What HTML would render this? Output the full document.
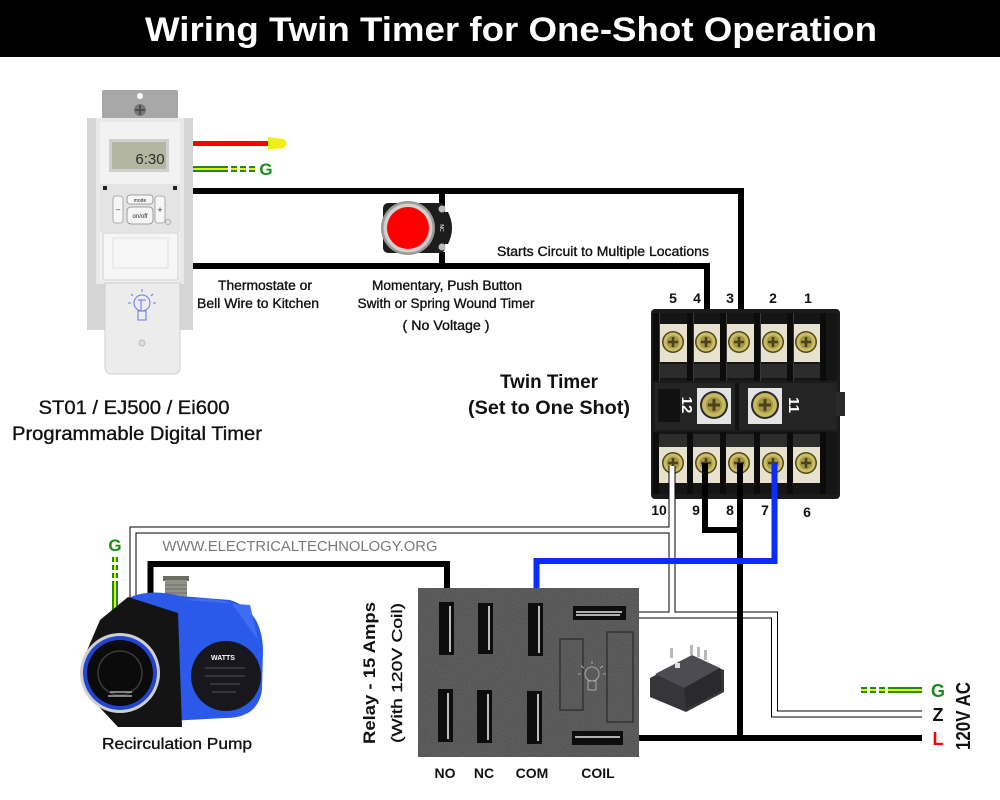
<!DOCTYPE html>
<html><head><meta charset="utf-8"><style>
html,body{margin:0;padding:0;background:#fff;}
svg{display:block;}
text{font-family:"Liberation Sans",sans-serif;}
.lb{stroke:#111;stroke-width:0.35px;}
</style></head><body>
<svg width="1000" height="800" viewBox="0 0 1000 800" xmlns="http://www.w3.org/2000/svg">
<defs>
 <g id="scr">
  <circle r="11" fill="#4f4818"/>
  <circle r="9.5" fill="#cbbd64"/>
  <circle r="6.5" fill="#a6984a"/>
  <path d="M-5,0H5M0,-5V5" stroke="#4a4218" stroke-width="2.6"/>
 </g>
 <g id="bscr">
  <circle r="14" fill="#2a2a2a"/>
  <circle r="12" fill="#c7b85e"/>
  <circle r="8" fill="#a39448"/>
  <path d="M-6,0H6M0,-6V6" stroke="#4a4218" stroke-width="3"/>
 </g>
 <filter id="noise" x="0" y="0" width="100%" height="100%">
  <feTurbulence type="fractalNoise" baseFrequency="0.9" numOctaves="2" result="n"/>
  <feColorMatrix type="saturate" values="0"/>
  <feComponentTransfer><feFuncA type="linear" slope="0.25"/></feComponentTransfer>
  <feComposite in2="SourceGraphic" operator="in"/>
 </filter>
</defs>

<!-- Title -->
<rect x="0" y="0" width="1000" height="57" fill="#000"/>
<text x="511" y="41" font-size="34" font-weight="bold" fill="#fff" text-anchor="middle" textLength="732" lengthAdjust="spacingAndGlyphs">Wiring Twin Timer for One-Shot Operation</text>

<!-- ===== Black wires top ===== -->
<g fill="none" stroke="#000" stroke-width="6" stroke-linejoin="miter" stroke-linecap="butt">
 <path d="M193,191 H741 V342"/>
 <path d="M193,266 H707 V342"/>
 <path d="M442,191 V206"/>
 <path d="M442,252 V266"/>
</g>
<!-- red wire + nut -->
<rect x="193" y="141" width="76" height="5" fill="#ff0000"/>
<path d="M268,137 L284,139 Q289,143.5 284,148 L268,150 Z" fill="#f2ee1e"/>
<!-- ground at timer -->
<rect x="193" y="166" width="35" height="6" fill="#1a8c1a"/>
<rect x="193" y="168" width="35" height="2" fill="#eeee00"/>
<g>
 <rect x="231" y="166" width="6" height="6" fill="#1a8c1a"/><rect x="231" y="168" width="6" height="2" fill="#eeee00"/>
 <rect x="240" y="166" width="6" height="6" fill="#1a8c1a"/><rect x="240" y="168" width="6" height="2" fill="#eeee00"/>
 <rect x="249" y="166" width="6" height="6" fill="#1a8c1a"/><rect x="249" y="168" width="6" height="2" fill="#eeee00"/>
</g>
<text x="266" y="175" font-size="17" font-weight="bold" fill="#1a8c1a" text-anchor="middle">G</text>

<!-- ===== Programmable timer device ===== -->
<rect x="87" y="118" width="106" height="212" fill="#d5d5d5"/>
<rect x="102" y="90" width="76" height="32" rx="2" fill="#a8a8a8"/>
<circle cx="140" cy="96" r="3" fill="#fff"/>
<circle cx="140" cy="110" r="6" fill="#777"/>
<path d="M135,110H145M140,105V115" stroke="#444" stroke-width="1.5"/>
<rect x="96" y="118" width="88" height="166" fill="#e9e9e9"/>
<rect x="100" y="122" width="80" height="160" fill="#f2f2f2"/>
<rect x="109" y="139" width="60" height="33" fill="#cfcfcf"/>
<rect x="112" y="142" width="54" height="27" fill="#b3b6a1"/>
<text x="150" y="164" font-size="15" fill="#2c2c2c" text-anchor="middle">6:30</text>
<rect x="100" y="184" width="80" height="48" fill="#e4e4e4"/>
<rect x="103" y="186" width="4" height="4" fill="#222"/>
<rect x="173" y="186" width="4" height="4" fill="#222"/>
<rect x="113" y="196" width="10" height="27" rx="3" fill="#f6f6f6" stroke="#999" stroke-width="0.8"/>
<rect x="155" y="196" width="10" height="27" rx="3" fill="#f6f6f6" stroke="#999" stroke-width="0.8"/>
<text x="118" y="212" font-size="8" fill="#333" text-anchor="middle">–</text>
<text x="160" y="213" font-size="9" fill="#333" text-anchor="middle">+</text>
<rect x="127" y="195" width="26" height="9" rx="3" fill="#f6f6f6" stroke="#888" stroke-width="0.8"/>
<text x="140" y="202" font-size="5" fill="#222" text-anchor="middle">mode</text>
<rect x="127" y="207" width="26" height="17" rx="4" fill="#f6f6f6" stroke="#888" stroke-width="0.8"/>
<text x="140" y="218" font-size="6" fill="#222" text-anchor="middle">on/off</text>
<circle cx="168" cy="222" r="2.5" fill="none" stroke="#aaa"/>
<rect x="103" y="233" width="75" height="47" fill="#f6f6f6" stroke="#d0d0d0"/>
<rect x="113" y="238" width="55" height="30" fill="none" stroke="#e0e0e0"/>
<path d="M105,283 H180 V368 Q180,374 172,374 H113 Q105,374 105,368 Z" fill="#ececec" stroke="#cfcfcf"/>
<g stroke="#6477f0" fill="none" stroke-width="1">
 <circle cx="142" cy="303" r="8"/>
 <rect x="138" y="311" width="8" height="9"/>
 <path d="M142,289V292M131,294L133,296M153,294L151,296M128,303H131M153,303H156M138,300H146M141,300V311"/>
</g>
<circle cx="142" cy="343" r="3" fill="#ddd" stroke="#bbb"/>

<!-- Labels (top area) -->
<text class="lb" x="265" y="290" font-size="13.5" fill="#111" text-anchor="middle" textLength="94" lengthAdjust="spacingAndGlyphs">Thermostate or</text>
<text class="lb" x="258" y="308" font-size="13.5" fill="#111" text-anchor="middle" textLength="122" lengthAdjust="spacingAndGlyphs">Bell Wire to Kitchen</text>
<text class="lb" x="447" y="290" font-size="13.5" fill="#111" text-anchor="middle" textLength="150" lengthAdjust="spacingAndGlyphs">Momentary, Push Button</text>
<text class="lb" x="446" y="308" font-size="13.5" fill="#111" text-anchor="middle" textLength="177" lengthAdjust="spacingAndGlyphs">Swith or Spring Wound Timer</text>
<text class="lb" x="446" y="330" font-size="13.5" fill="#111" text-anchor="middle" textLength="87" lengthAdjust="spacingAndGlyphs">( No Voltage )</text>
<text class="lb" x="603" y="256" font-size="13.5" fill="#111" text-anchor="middle" textLength="212" lengthAdjust="spacingAndGlyphs">Starts Circuit to Multiple Locations</text>
<text class="lb" x="134" y="414" font-size="19" fill="#111" text-anchor="middle" textLength="191" lengthAdjust="spacingAndGlyphs">ST01 / EJ500 / Ei600</text>
<text class="lb" x="137" y="440" font-size="19" fill="#111" text-anchor="middle" textLength="250" lengthAdjust="spacingAndGlyphs">Programmable Digital Timer</text>
<text x="549" y="388" font-size="19" font-weight="bold" fill="#111" text-anchor="middle" textLength="98" lengthAdjust="spacingAndGlyphs">Twin Timer</text>
<text x="549" y="414" font-size="19" font-weight="bold" fill="#111" text-anchor="middle" textLength="162" lengthAdjust="spacingAndGlyphs">(Set to One Shot)</text>

<!-- Push button -->
<rect x="383" y="203" width="62" height="50" rx="5" fill="#1d1d1d"/>
<path d="M440,212 H448 Q456,228 448,244 H440 Z" fill="#1d1d1d"/>
<circle cx="408" cy="228" r="27" fill="#9a9a9a"/>
<circle cx="408" cy="228" r="24.5" fill="#d0d0d0"/>
<circle cx="408" cy="228" r="21" fill="#ff0000"/>
<circle cx="442" cy="209" r="3.5" fill="#bbb"/>
<circle cx="442" cy="247" r="3.5" fill="#bbb"/>
<text x="443" y="231" font-size="5" fill="#fff" transform="rotate(90 443 228)" text-anchor="middle">NC</text>

<!-- ===== Twin timer ===== -->
<text font-size="14" font-weight="bold" fill="#111" text-anchor="middle">
 <tspan x="673" y="303">5</tspan><tspan x="697" y="303">4</tspan><tspan x="730" y="303">3</tspan><tspan x="773" y="303">2</tspan><tspan x="808" y="303">1</tspan>
</text>
<rect x="651" y="309" width="189" height="190" rx="4" fill="#1b1b1b"/>
<rect x="655" y="313" width="182" height="67" fill="#151515"/>
<g fill="#e6e2cf">
 <rect x="659" y="324" width="29" height="38"/><rect x="692" y="324" width="29" height="38"/><rect x="725" y="324" width="29" height="38"/><rect x="759" y="324" width="29" height="38"/><rect x="792" y="324" width="29" height="38"/>
</g>
<g fill="#2c2c2c">
 <rect x="659" y="364" width="29" height="14"/><rect x="692" y="364" width="29" height="14"/><rect x="725" y="364" width="29" height="14"/><rect x="759" y="364" width="29" height="14"/><rect x="792" y="364" width="29" height="14"/>
</g>
<g fill="#0c0c0c">
 <rect x="653" y="313" width="6" height="68"/><rect x="687" y="313" width="6" height="68"/><rect x="720" y="313" width="6" height="68"/><rect x="754" y="313" width="6" height="68"/><rect x="787" y="313" width="6" height="68"/><rect x="820" y="313" width="6" height="68"/>
</g>
<g fill="#3a3a3a">
 <rect x="659" y="313" width="1" height="68"/><rect x="693" y="313" width="1" height="68"/><rect x="726" y="313" width="1" height="68"/><rect x="760" y="313" width="1" height="68"/><rect x="793" y="313" width="1" height="68"/>
</g>
<use href="#scr" x="673" y="342"/><use href="#scr" x="706" y="342"/><use href="#scr" x="739" y="342"/><use href="#scr" x="773" y="342"/><use href="#scr" x="806" y="342"/>
<rect x="655" y="383" width="182" height="47" fill="#242424"/>
<rect x="658" y="389" width="22" height="33" fill="#111"/>
<rect x="697" y="388" width="34" height="36" fill="#e4e4e4"/>
<rect x="748" y="388" width="34" height="36" fill="#e4e4e4"/>
<rect x="735" y="383" width="4" height="47" fill="#111"/>
<use href="#bscr" x="714" y="405"/>
<use href="#bscr" x="765" y="405"/>
<rect x="836" y="392" width="9" height="24" fill="#2a2a2a"/>
<text x="687" y="410" font-size="15" font-weight="bold" fill="#fff" text-anchor="middle" transform="rotate(90 687 405)">12</text>
<text x="794" y="410" font-size="15" font-weight="bold" fill="#fff" text-anchor="middle" transform="rotate(90 794 405)">11</text>
<rect x="655" y="432" width="182" height="62" fill="#151515"/>
<g fill="#2c2c2c">
 <rect x="659" y="434" width="29" height="13"/><rect x="692" y="434" width="29" height="13"/><rect x="725" y="434" width="29" height="13"/><rect x="759" y="434" width="29" height="13"/><rect x="792" y="434" width="29" height="13"/>
</g>
<g fill="#e6e2cf">
 <rect x="659" y="447" width="29" height="36"/><rect x="692" y="447" width="29" height="36"/><rect x="725" y="447" width="29" height="36"/><rect x="759" y="447" width="29" height="36"/><rect x="792" y="447" width="29" height="36"/>
</g>
<g fill="#0c0c0c">
 <rect x="653" y="432" width="6" height="62"/><rect x="687" y="432" width="6" height="62"/><rect x="720" y="432" width="6" height="62"/><rect x="754" y="432" width="6" height="62"/><rect x="787" y="432" width="6" height="62"/><rect x="820" y="432" width="6" height="62"/>
</g>
<use href="#scr" x="673" y="463"/><use href="#scr" x="706" y="463"/><use href="#scr" x="739" y="463"/><use href="#scr" x="773" y="463"/><use href="#scr" x="806" y="463"/>
<text font-size="14" font-weight="bold" fill="#111" text-anchor="middle">
 <tspan x="659" y="515">10</tspan><tspan x="696" y="515">9</tspan><tspan x="730" y="515">8</tspan><tspan x="765" y="515">7</tspan><tspan x="807" y="517">6</tspan>
</text>

<!-- ===== White wires (outlined) ===== -->
<g fill="none" stroke-linejoin="miter" stroke-linecap="butt">
 <g stroke="#000" stroke-width="7">
  <path d="M672,466 V617"/>
  <path d="M672,530 H133 V600"/>
  <path d="M639,615 H774.5 V714 H922"/>
 </g>
 <g stroke="#fff" stroke-width="5">
  <path d="M672,466 V617"/>
  <path d="M672,530 H133 V600"/>
  <path d="M639,615 H774.5 V714 H922"/>
 </g>
</g>

<!-- black wires lower -->
<g fill="none" stroke="#000" stroke-width="6" stroke-linejoin="miter" stroke-linecap="butt">
 <path d="M705,463 V530 H740"/>
 <path d="M740,463 V738"/>
 <path d="M639,738 H922"/>
 <path d="M150.5,600 V564 H447 V590"/>
</g>
<path d="M774.5,463 V561 H536.5 V590" fill="none" stroke="#0a2cff" stroke-width="6" stroke-linejoin="miter"/>

<text x="300" y="551" font-size="15" fill="#7a7a7a" text-anchor="middle" textLength="275" lengthAdjust="spacingAndGlyphs">WWW.ELECTRICALTECHNOLOGY.ORG</text>

<!-- pump ground -->
<text x="115" y="551" font-size="17" font-weight="bold" fill="#1a8c1a" text-anchor="middle">G</text>
<g>
 <rect x="112" y="557" width="6" height="5" fill="#1a8c1a"/><rect x="114" y="557" width="2" height="5" fill="#eeee00"/>
 <rect x="112" y="565" width="6" height="5" fill="#1a8c1a"/><rect x="114" y="565" width="2" height="5" fill="#eeee00"/>
 <rect x="112" y="573" width="6" height="5" fill="#1a8c1a"/><rect x="114" y="573" width="2" height="5" fill="#eeee00"/>
 <rect x="112" y="581" width="6" height="42" fill="#1a8c1a"/><rect x="114" y="581" width="2" height="42" fill="#eeee00"/>
</g>

<!-- ===== Pump ===== -->
<rect x="163" y="576" width="26" height="5" fill="#6c6c66"/>
<rect x="165" y="580" width="22" height="22" fill="#929289"/>
<path d="M165,585H187M165,589H187M165,593H187M165,597H187" stroke="#6f6f68" stroke-width="1"/>
<path d="M128,598 Q150,588 180,596 L230,600 Q262,610 263,650 L262,690 Q258,718 225,718 L150,722 L128,720 Z" fill="#2b59ea"/>
<path d="M185,600 Q215,596 232,604 L258,640 L250,605 Z" fill="#3f6cf5"/>
<circle cx="226" cy="676" r="35" fill="#17171d"/>
<text x="223" y="660" font-size="7" font-weight="bold" fill="#fff" text-anchor="middle">WATTS</text>
<path d="M205,668H245M205,676H245M210,684H240M212,692H236" stroke="#555" stroke-width="1"/>
<path d="M128,597 L178,613 L182,727 L118,727 L88,695 L83,660 L100,620 Z" fill="#141414"/>
<circle cx="120" cy="673" r="40" fill="#cfcfcf"/>
<circle cx="120" cy="673" r="37" fill="#2244d0"/>
<circle cx="120" cy="673" r="33" fill="#0b0b0b"/>
<circle cx="120" cy="673" r="22" fill="none" stroke="#3a3a3a" stroke-width="1.5"/>
<path d="M110,692H132M108,696H132" stroke="#aaa" stroke-width="1.5"/>
<text class="lb" x="177" y="749" font-size="16" fill="#111" text-anchor="middle" textLength="150" lengthAdjust="spacingAndGlyphs">Recirculation Pump</text>

<!-- ===== Relay socket ===== -->
<rect x="418" y="588" width="221" height="169" fill="#4c4c4c"/>
<rect x="418" y="588" width="221" height="169" fill="#fff" filter="url(#noise)"/>
<g fill="#0d0d0d">
 <rect x="439" y="602" width="15" height="53"/><rect x="478" y="603" width="15" height="51"/><rect x="528" y="603" width="15" height="53"/>
 <rect x="438" y="689" width="15" height="53"/><rect x="477" y="690" width="15" height="53"/><rect x="527" y="691" width="15" height="53"/>
 <rect x="573" y="606" width="53" height="14"/><rect x="572" y="731" width="51" height="14"/>
</g>
<g stroke="#e8e8e8" stroke-width="1.6">
 <path d="M450,606V652M489,606V650M539,606V653M448,693V739M488,694V740M538,694V741"/>
 <path d="M576,612H622M576,615H620M575,737H620"/>
</g>
<rect x="560" y="639" width="23" height="71" fill="none" stroke="#333" stroke-width="1.5"/>
<rect x="607" y="632" width="26" height="90" fill="none" stroke="#333" stroke-width="1.5"/>
<g stroke="#bbb" fill="none" stroke-width="0.8">
 <circle cx="592" cy="674" r="7"/><rect x="588" y="681" width="8" height="9"/>
 <path d="M592,661V664M581,666L584,668M603,666L600,668M578,674H581M603,674H606"/>
</g>
<text x="369" y="673" font-size="17" font-weight="bold" fill="#111" text-anchor="middle" transform="rotate(-90 369 673)" dy="6" textLength="142" lengthAdjust="spacingAndGlyphs">Relay - 15 Amps</text>
<text class="lb" x="397" y="673" font-size="15" fill="#111" text-anchor="middle" transform="rotate(-90 397 673)" dy="5" textLength="140" lengthAdjust="spacingAndGlyphs">(With 120V Coil)</text>
<text font-size="14" font-weight="bold" fill="#111" text-anchor="middle">
 <tspan x="445" y="778">NO</tspan><tspan x="484" y="778">NC</tspan><tspan x="532" y="778">COM</tspan><tspan x="598" y="778">COIL</tspan>
</text>

<!-- small relay -->
<path d="M650,678 L690,657 L724,670 L724,692 L686,712 L650,697 Z" fill="#35353a"/>
<path d="M655,674 L692,655 L720,668 L684,688 Z" fill="#4c4c52"/>
<path d="M684,688 L720,668 L722,690 L686,709 Z" fill="#2a2a2e"/>
<g fill="#b8b8b8">
 <rect x="670" y="648" width="3" height="10"/><rect x="690" y="645" width="3" height="10"/><rect x="697" y="647" width="3" height="10"/><rect x="704" y="650" width="3" height="10"/>
</g>
<rect x="675" y="663" width="5" height="5" fill="#ddd"/>

<!-- right side supply -->
<g>
 <rect x="861" y="687" width="6" height="6" fill="#1a8c1a"/><rect x="861" y="689" width="6" height="2" fill="#eeee00"/>
 <rect x="870" y="687" width="6" height="6" fill="#1a8c1a"/><rect x="870" y="689" width="6" height="2" fill="#eeee00"/>
 <rect x="879" y="687" width="6" height="6" fill="#1a8c1a"/><rect x="879" y="689" width="6" height="2" fill="#eeee00"/>
 <rect x="888" y="687" width="34" height="6" fill="#1a8c1a"/><rect x="888" y="689" width="34" height="2" fill="#eeee00"/>
</g>
<text x="938" y="697" font-size="18" font-weight="bold" fill="#1a8c1a" text-anchor="middle">G</text>
<text x="938" y="721" font-size="18" font-weight="bold" fill="#111" text-anchor="middle">Z</text>
<text x="938" y="745" font-size="18" font-weight="bold" fill="#ff0000" text-anchor="middle">L</text>
<text x="963" y="716" font-size="20" font-weight="bold" fill="#111" text-anchor="middle" transform="rotate(-90 963 716)" dy="7" textLength="68" lengthAdjust="spacingAndGlyphs">120V AC</text>
</svg>
</body></html>
